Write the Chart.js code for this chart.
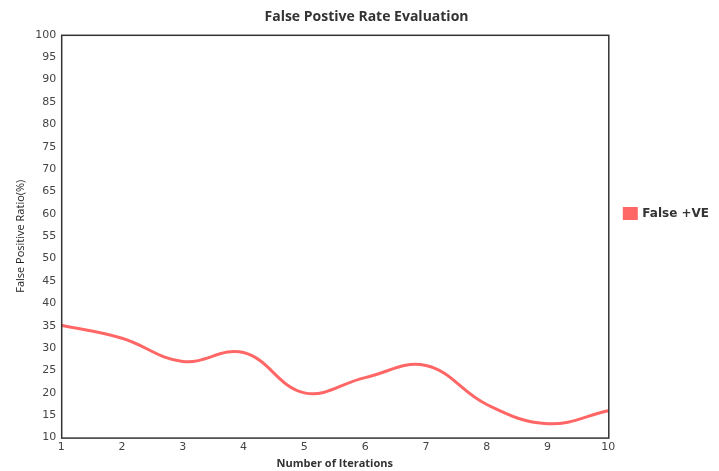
<!DOCTYPE html>
<html>
<head>
<meta charset="utf-8">
<script src="https://cdn.jsdelivr.net/npm/chart.js@4.4.1/dist/chart.umd.min.js"></script>
<style>
  html, body { margin: 0; padding: 0; background: #fff; }
  #wrap { width: 719px; height: 471px; }
</style>
</head>
<body>
<div id="wrap"><canvas id="myChart"></canvas></div>
<script>
var iterations = ['1', '2', '3', '4', '5', '6', '7', '8', '9', '10'];
var falsePositive = [35.1, 32.2, 27, 29, 20, 23.4, 26.1, 17.4, 13.1, 16];
var yTicks = { min: 10, max: 100, step: 5 };

// draw a frame all the way round the plot area
var frame = {
    id: 'frame',
    afterDraw: function(chart) {
        var a = chart.chartArea, c = chart.ctx;
        c.save();
        c.strokeStyle = '#333';
        c.lineWidth = 1.5;
        c.strokeRect(a.left + 0.5, a.top + 0.5, a.right - a.left, a.bottom - a.top);
        c.restore();
    }
};

var ctx = document.getElementById('myChart');
var myChart = new Chart(ctx, {
    type: 'line',
    data: {
        labels: iterations,
        datasets: [{
            label: 'False +VE',
            data: falsePositive,
            borderColor: '#ff6666',
            backgroundColor: '#ff6666',
            borderWidth: 3,
            pointRadius: 0,
            tension: 0.4,
            fill: false
        }]
    },
    options: {
        responsive: true,
        maintainAspectRatio: false,
        animation: false,
        layout: { padding: { left: 14, right: 0, top: 4, bottom: 1 } },
        plugins: {
            title: {
                display: true,
                text: 'False Postive Rate Evaluation',
                color: '#333',
                font: { family: 'Open Sans', size: 14, weight: 'bold' },
                padding: { top: 5, bottom: 9 }
            },
            legend: {
                position: 'right',
                align: 'start',
                // empty legend title only used to push the item down
                title: { display: true, text: '', padding: { top: 173, bottom: 0 }, font: { size: 12 } },
                labels: {
                    boxWidth: 12,
                    boxHeight: 10,
                    padding: 16,
                    color: '#333',
                    font: { family: 'DejaVu Sans', size: 12, weight: 'bold' }
                }
            },
            tooltip: { enabled: false }
        },
        scales: {
            x: {
                grid: { display: false, drawTicks: false },
                border: { display: false },
                ticks: { padding: 3, color: '#444', font: { family: 'DejaVu Sans', size: 11 }, maxRotation: 0 },
                title: {
                    display: true,
                    text: 'Number of Iterations',
                    color: '#333',
                    font: { family: 'Open Sans', size: 11, weight: 'bold' },
                    padding: { top: 0, bottom: 0 }
                }
            },
            y: {
                min: yTicks.min,
                max: yTicks.max,
                grid: { display: false, drawTicks: false },
                border: { display: false },
                ticks: { padding: 5, stepSize: yTicks.step, color: '#444', font: { family: 'DejaVu Sans', size: 11 } },
                title: {
                    display: true,
                    text: 'False Positive Ratio(%)',
                    color: '#222',
                    font: { family: 'Open Sans', size: 11 },
                    padding: { top: 0, bottom: 3 }
                }
            }
        }
    },
    plugins: [frame]
});
</script>
</body>
</html>
